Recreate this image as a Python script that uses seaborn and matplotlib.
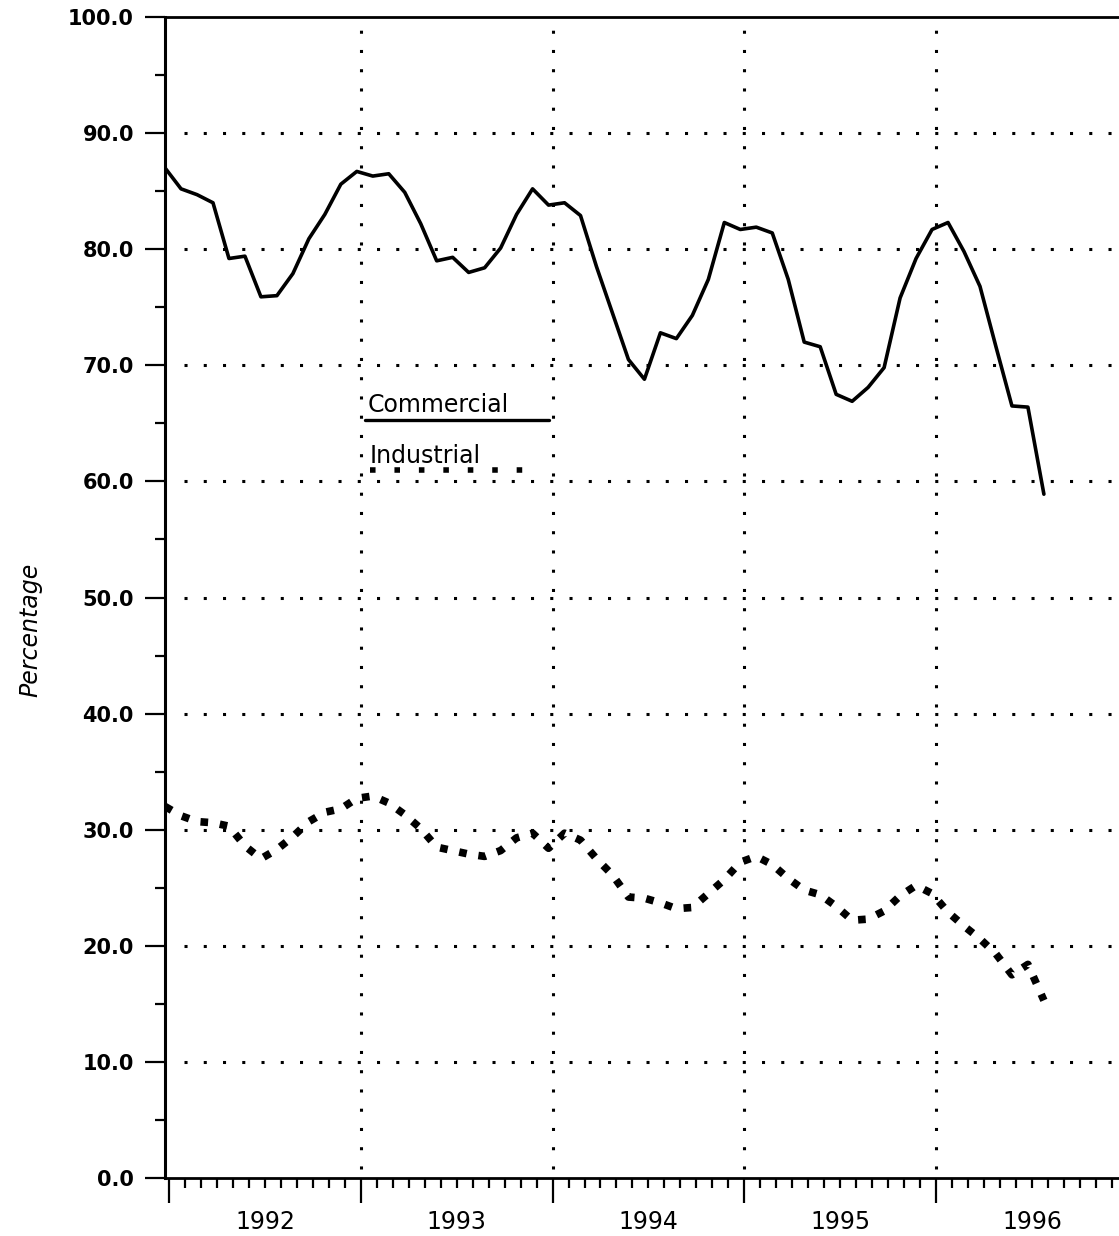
import numpy as np
import pandas as pd
import matplotlib
matplotlib.use("Agg")
import matplotlib.pyplot as plt
import seaborn as sns

# ===============================
# DATA (monthly, Jan 1992 - Aug 1996)
# ===============================
years = ["1992", "1993", "1994", "1995", "1996"]

commercial = [
    87.0, 85.2, 84.7, 84.0, 79.2, 79.4, 75.9, 76.0, 77.9, 80.9, 83.0, 85.6,
    86.7, 86.3, 86.5, 84.9, 82.2, 79.0, 79.3, 78.0, 78.4, 80.1, 83.0, 85.2,
    83.8, 84.0, 82.9, 78.5, 74.5, 70.5, 68.8, 72.8, 72.3, 74.3, 77.4, 82.3,
    81.7, 81.9, 81.4, 77.4, 72.0, 71.6, 67.5, 66.9, 68.1, 69.8, 75.8, 79.2,
    81.7, 82.3, 79.8, 76.8, 71.6, 66.5, 66.4, 58.9,
]

industrial = [
    32.0, 31.2, 30.7, 30.6, 30.3, 28.6, 27.5, 28.3, 29.4, 30.7, 31.5, 31.8,
    32.7, 32.9, 32.3, 31.3, 30.1, 28.5, 28.2, 27.9, 27.7, 28.2, 29.3, 29.7,
    28.4, 29.7, 29.1, 27.5, 26.1, 24.2, 24.1, 23.7, 23.2, 23.3, 24.5, 25.7,
    27.2, 27.7, 27.0, 25.8, 24.8, 24.4, 23.4, 22.2, 22.3, 23.0, 24.3, 25.2,
    24.5, 22.9, 21.7, 20.6, 19.3, 17.5, 18.4, 15.3,
]

months = np.arange(len(commercial))
df = pd.DataFrame({"month": months, "Commercial": commercial, "Industrial": industrial})

# ===============================
# STYLE
# ===============================
sns.set_style("ticks")
plt.rcParams["font.family"] = ["DejaVu Sans"]
plt.rcParams["text.color"] = "black"
plt.rcParams["xtick.color"] = "black"
plt.rcParams["ytick.color"] = "black"
plt.rcParams["axes.labelcolor"] = "black"

fig = plt.figure(figsize=(11.19, 12.36), dpi=100)
ax = fig.add_axes([0.1475, 0.04693, 0.8525, 0.9393])

x_max = 59.7
year_offset = 0.25
year_pos = [12 * k + year_offset for k in range(len(years))]

# grid (dotted)
grid_style = dict(color="black", linewidth=2.2, linestyles=(0, (1, 5.3)), zorder=1)
ax.hlines(np.arange(10, 100, 10), 1.2, x_max, **grid_style)
ax.vlines(year_pos[1:], 0.8, 99, **grid_style)

# ===============================
# LINES
# ===============================
sns.lineplot(data=df, x="month", y="Commercial", color="black",
             linewidth=2.6, ax=ax, zorder=3)
sns.lineplot(data=df, x="month", y="Industrial", color="black",
             linewidth=5.5, linestyle=(0, (1, 1.55)), ax=ax, zorder=3)

# ===============================
# AXES
# ===============================
ax.set_xlim(0, x_max)
ax.set_ylim(0, 100)
ax.set_xlabel("")
ax.set_ylabel("")

ax.set_yticks(np.arange(0, 101, 10))
ax.set_yticklabels([f"{v:.1f}" for v in np.arange(0, 101, 10)],
                   fontsize=15, fontweight="bold")
ax.set_yticks(np.arange(5, 100, 10), minor=True)

ax.set_xticks(year_pos)
ax.set_xticklabels([])
minor_x = [m + year_offset for m in range(60) if m % 12 != 0]
ax.set_xticks(minor_x, minor=True)

ax.tick_params(axis="y", which="major", length=14.4, width=1.6, pad=8)
ax.tick_params(axis="y", which="minor", length=7, width=1.6)
ax.tick_params(axis="x", which="major", length=18, width=1.6, direction="out")
ax.tick_params(axis="x", which="minor", length=7, width=1.6, direction="out")

for k, yr in enumerate(years):
    ax.text(12 * k + 6 + year_offset, -0.038, yr, fontsize=17,
            ha="center", va="center", color="black",
            transform=ax.get_xaxis_transform())

ax.spines["right"].set_visible(False)
ax.spines["left"].set_linewidth(2.2)
ax.spines["bottom"].set_linewidth(2.0)
ax.spines["top"].set_linewidth(2.0)
for s in ["left", "bottom", "top"]:
    ax.spines[s].set_color("black")

fig.text(30 / 1119, 1 - 630 / 1236, "Percentage", rotation=90,
         fontsize=17, style="italic", ha="center", va="center", color="black")

# ===============================
# LEGEND (text over line sample)
# ===============================
ax.text(12.7, 66.6, "Commercial", fontsize=17, ha="left", va="center",
        color="black", zorder=4)
ax.plot([12.5, 24.0], [65.3, 65.3], color="black", linewidth=2.4, zorder=4)
ax.text(12.8, 62.2, "Industrial", fontsize=17, ha="left", va="center",
        color="black", zorder=4)
ax.plot([12.8, 23.2], [61.0, 61.0], color="black", linewidth=4,
        linestyle=(0, (1, 3.4)), zorder=4)

plt.savefig("out.png", dpi=100)
plt.close()
